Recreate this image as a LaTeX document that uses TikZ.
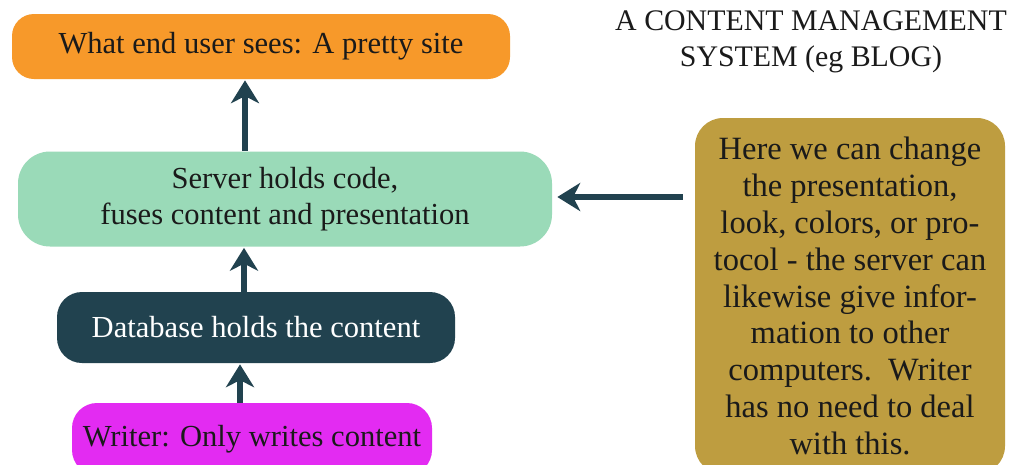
\documentclass[tikz,border=0pt]{standalone}
\usepackage{fontspec}
\setmainfont{Liberation Serif}
\usetikzlibrary{arrows.meta,calc}
\newcommand\pxu{0.02cm}
\definecolor{cmsorange}{HTML}{F7992A}
\definecolor{cmsgreen}{HTML}{9ADAB8}
\definecolor{cmsdark}{HTML}{21424F}
\definecolor{cmsmagenta}{HTML}{E32BF2}
\definecolor{cmsgold}{HTML}{BE9D40}
\definecolor{cmstext}{HTML}{1A1A1A}
\tikzset{
  box/.style={rounded corners=#1, inner sep=0pt, align=center, text=cmstext,
    font=\fontsize{17.4}{20.5}\selectfont},
  box/.default={25*\pxu},
  flow/.style={draw=cmsdark, line width=3.6pt,
    -{Stealth[length=13pt, width=16pt, inset=4pt]}},
}
\begin{document}
\begin{tikzpicture}[x=0.02cm, y=-0.02cm]
\clip (0,0) rectangle (1026,464);
\fill[white] (0,0) rectangle (1026,464);
\node[box=22*\pxu, fill=cmsorange, minimum width=498*\pxu, minimum height=65*\pxu]
  (o) at (261,46.5) {What end user sees: A pretty site};
\node[box=32*\pxu, fill=cmsgreen, minimum width=534*\pxu, minimum height=95*\pxu]
  (g) at (285,199) {Server holds code,\\fuses content and presentation};
\node[box, fill=cmsdark, text=white, minimum width=398*\pxu, minimum height=71*\pxu]
  (d) at (256,327.5) {Database holds the content};
\node[box, fill=cmsmagenta, minimum width=360*\pxu, minimum height=72*\pxu]
  (w) at (252,439) {Writer: Only writes content};
\node[box=28*\pxu, fill=cmsgold, minimum width=310*\pxu, minimum height=356*\pxu,
  font=\fontsize{18.5}{21}\selectfont]
  (h) at (850,296) {Here we can change\\the presentation,\\look, colors, or pro-\\tocol - the server can\\likewise give infor-\\mation to other\\computers.\ \ Writer\\has no need to deal\\with this.};
\node[align=center, text=cmstext, font=\fontsize{17}{20.5}\selectfont]
  (t) at (811,42) {A CONTENT MANAGEMENT\\SYSTEM (eg BLOG)};
\draw[flow] ($(g.north)+(-40,0)$) -- ($(o.south)+(-16,1)$);
\draw[flow] ($(d.north)+(-12,0)$) -- ($(g.south)+(-41,1)$);
\draw[flow] ($(w.north)+(-12,0)$) -- ($(d.south)+(-16,1)$);
\draw[flow] ($(h.west)+(-12,-99)$) -- ($(g.east)+(5,-2)$);
\end{tikzpicture}
\end{document}
